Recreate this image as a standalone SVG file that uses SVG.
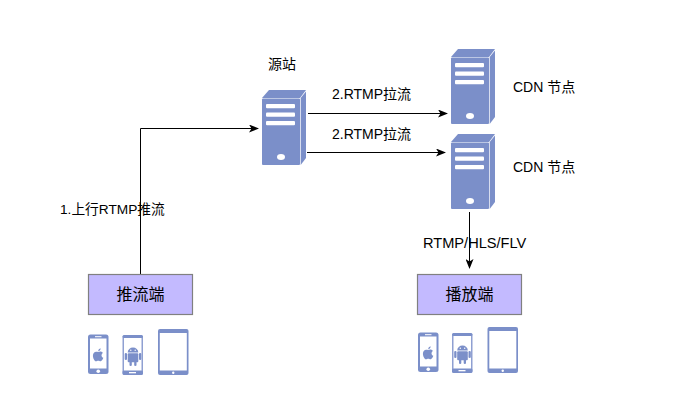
<svg xmlns="http://www.w3.org/2000/svg" width="685" height="405" viewBox="0 0 685 405">
<style>
text{font-family:"Liberation Sans","Noto Sans CJK SC",sans-serif;font-size:14px;fill:#000}
.box{fill:#c3baff;stroke:#808080;stroke-width:1.2}
.lbl{font-size:16px;text-anchor:middle}
.conn{fill:none;stroke:#000;stroke-width:1}
.dev{fill:#7b8fc9}
.scr{fill:#fff}
</style>
<defs>
<marker id="arr" markerWidth="10" markerHeight="8" refX="9" refY="4" orient="auto" markerUnits="userSpaceOnUse"><path d="M0 0L10 4L0 8L2.500 4Z" fill="#000"/></marker>
<g id="server">
<path d="M0 8L7 0H44L38 8Z" fill="#7b8fc9"/>
<path d="M38.700 8L44 1.500V68L38.700 75Z" fill="#7b8fc9"/>
<rect x="0" y="8.500" width="38" height="66.500" rx="1" fill="#7b8fc9"/>
<rect x="4" y="14" width="29" height="4.300" rx="1" fill="#fff"/>
<rect x="4" y="22.500" width="29" height="4.300" rx="1" fill="#fff"/>
<rect x="4" y="31" width="29" height="4.300" rx="1" fill="#fff"/>
<ellipse cx="19" cy="67" rx="4" ry="3" fill="#fff"/>
</g>
<g id="iphone">
<rect width="20.500" height="39.500" rx="2.500" class="dev"/>
<rect x="2" y="4" width="16.500" height="30" class="scr"/>
<rect x="7" y="1.700" width="6.500" height="1" fill="#fff"/>
<circle cx="10.250" cy="36.700" r="1.800" fill="#fff"/>
<path d="M10.300 17.500c1-.6 2.200-.8 3.200-.3.700.3 1.100.8 1.400 1.200-2 1.300-1.700 4 .4 4.900-.5 1.500-1.500 3.300-2.600 3.500-.9.100-1.300-.5-2.400-.5s-1.600.6-2.400.5c-1.500-.2-3-3.400-3-5.600 0-2.700 1.900-4 3.400-3.900.8 0 1.500.3 2 .2z M10.200 16.800c0-1.500 1-2.700 2.400-3 .1 1.600-1 2.900-2.400 3z" class="dev"/>
</g>
<g id="android">
<rect x=".75" y=".75" width="19" height="38.500" rx="2" fill="#fff" stroke="#8fa0d2" stroke-width="1.500"/>
<rect x="0" y="0" width="20.500" height="3" rx="1.500" class="dev"/>
<rect x="0" y="35.500" width="20.500" height="4.500" rx="1.500" class="dev"/>
<rect x="6.500" y="37" width="7" height="1.300" fill="#fff"/>
<path d="M5.200 17.500a5.300 5 0 0 1 10.600 0Z" class="dev"/>
<rect x="5.200" y="18.300" width="10.600" height="9" rx="1" class="dev"/>
<rect x="2.200" y="18" width="2.300" height="7" rx="1.100" class="dev"/>
<rect x="16.500" y="18" width="2.300" height="7" rx="1.100" class="dev"/>
<rect x="7" y="26" width="2.300" height="5" rx="1.100" class="dev"/>
<rect x="11.700" y="26" width="2.300" height="5" rx="1.100" class="dev"/>
<circle cx="8.300" cy="15.200" r=".7" fill="#fff"/>
<circle cx="12.700" cy="15.200" r=".7" fill="#fff"/>
</g>
<g id="tablet">
<rect width="30.500" height="46" rx="2" class="dev"/>
<rect x="1.800" y="4" width="27" height="37.500" class="scr"/>
<circle cx="15.250" cy="43.700" r="1.200" fill="#fff"/>
</g>
</defs>
<g id="connectors">
<path class="conn" d="M140.500 274V128.500H258" marker-end="url(#arr)"/>
<path class="conn" d="M308 113.500H447" marker-end="url(#arr)"/>
<path class="conn" d="M307 152.500H445" marker-end="url(#arr)"/>
<path class="conn" d="M469.500 212V268" marker-end="url(#arr)"/>
</g>
<g id="origin">
<use href="#server" x="262" y="90"/>
<text x="268" y="69">源站</text>
</g>
<g id="cdn1">
<use href="#server" x="451" y="49"/>
<text x="513" y="92">CDN 节点</text>
</g>
<g id="cdn2">
<use href="#server" x="451" y="134"/>
<text x="513" y="172">CDN 节点</text>
</g>
<g id="publisher">
<rect class="box" x="88.500" y="274.500" width="104" height="40"/>
<text class="lbl" x="140.500" y="300">推流端</text>
<use href="#iphone" x="88" y="334.500"/>
<use href="#android" x="122.500" y="335"/>
<use href="#tablet" x="158" y="329"/>
</g>
<g id="player">
<rect class="box" x="417.500" y="274.500" width="104" height="40"/>
<text class="lbl" x="469.500" y="300">播放端</text>
<use href="#iphone" x="418" y="332.500"/>
<use href="#android" x="452" y="333"/>
<use href="#tablet" x="487.500" y="327"/>
</g>
<g id="labels">
<text x="332" y="99">2.RTMP拉流</text>
<text x="332" y="139">2.RTMP拉流</text>
<text x="60" y="214" style="font-size:13.700px">1.上行RTMP推流</text>
<text x="423" y="248" style="font-size:14.600px">RTMP/HLS/FLV</text>
</g>
</svg>
